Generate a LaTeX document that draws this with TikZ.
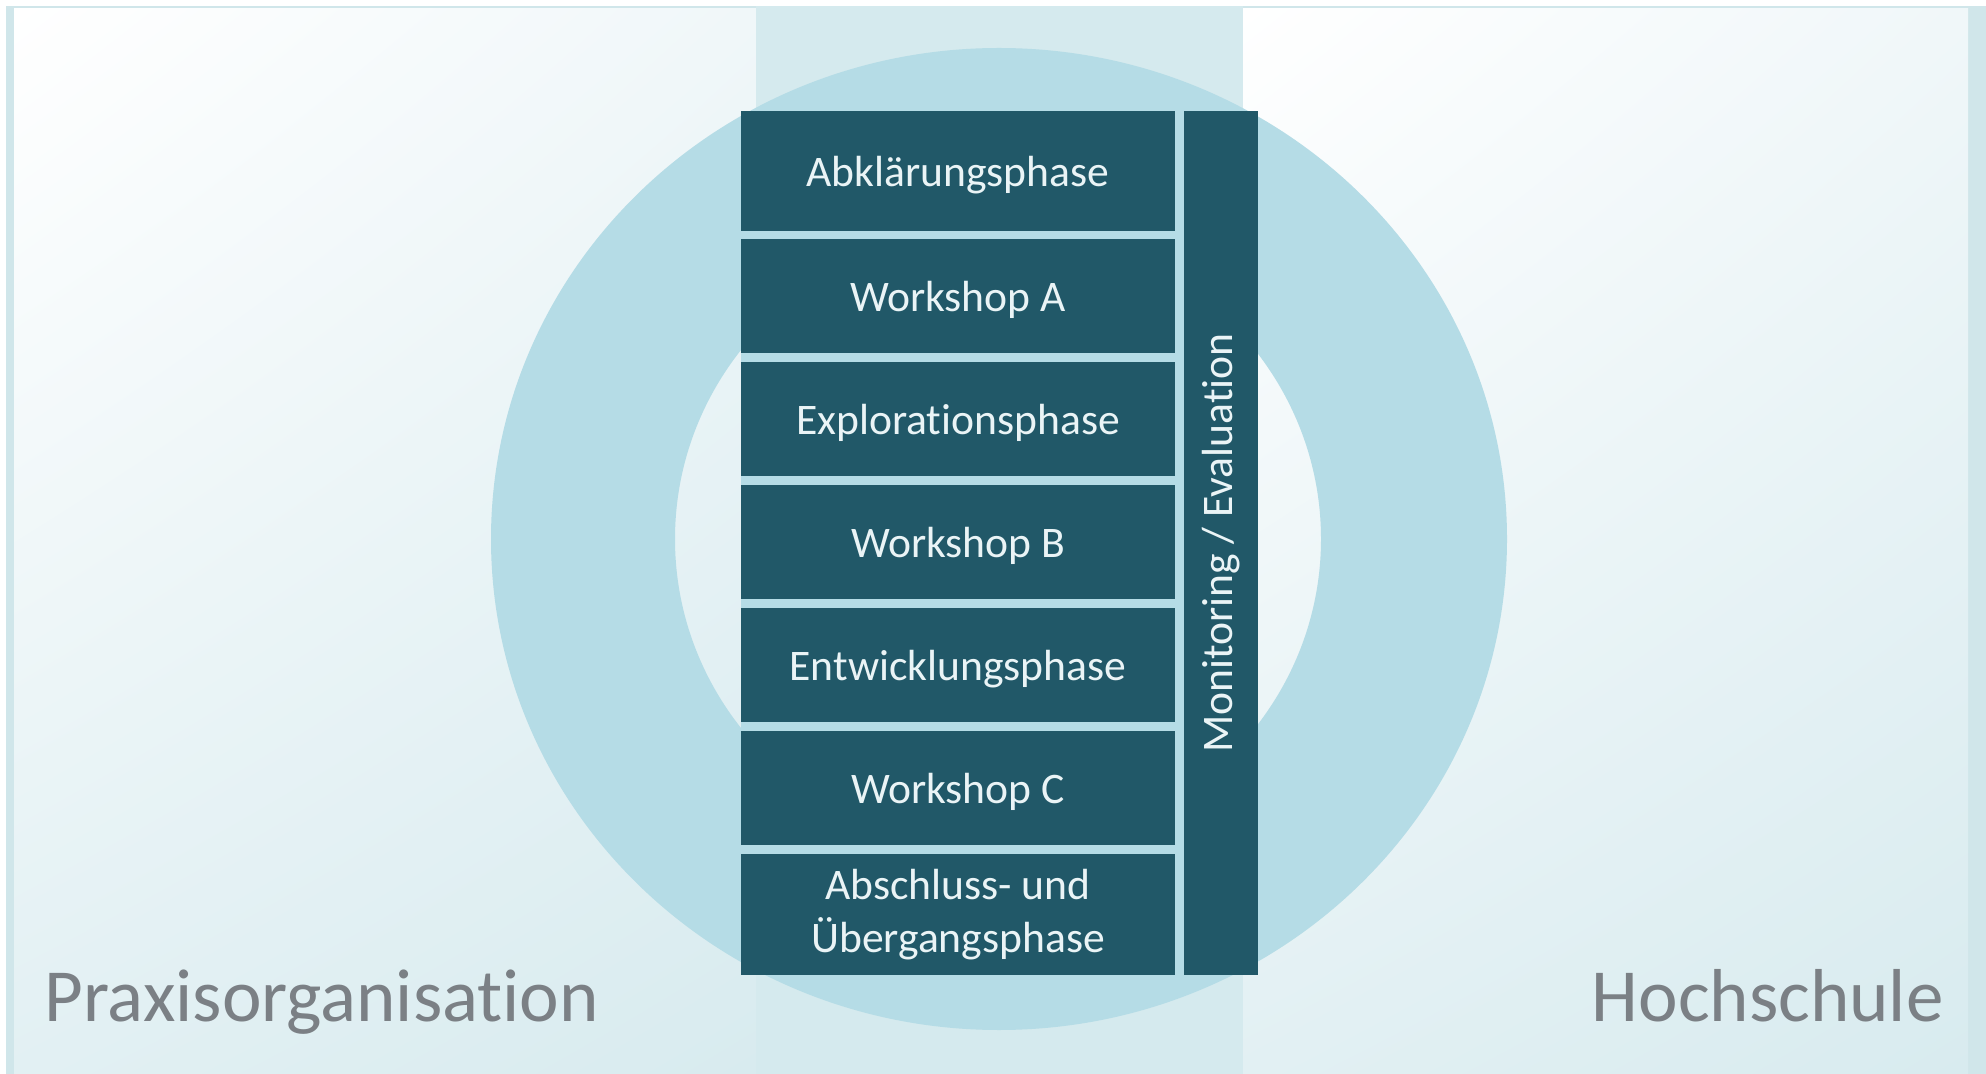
\documentclass[tikz,border=0pt]{standalone}
\usepackage{fontspec}
\setmainfont[Ligatures=NoCommon]{Carlito}
\usetikzlibrary{shadings}
\definecolor{boxteal}{HTML}{215868}
\definecolor{boxtext}{HTML}{EAF4F6}
\definecolor{ringblue}{HTML}{B5DCE6}
\definecolor{bandteal}{HTML}{D5EAEE}
\definecolor{framet}{HTML}{D0E6EA}
\definecolor{labelgray}{HTML}{7B8085}
\definecolor{panelA}{HTML}{F0F7F9}
\definecolor{panelB}{HTML}{E2F0F3}
\definecolor{panelC}{HTML}{D8EBEF}
\begin{document}
\begin{tikzpicture}[x=0.5pt,y=-0.5pt,
  phase/.style={fill=boxteal, text=boxtext, minimum width=217pt, inner sep=0pt,
    font=\fontsize{21.8}{26.5}\selectfont, align=center},
  oneline/.style={text height=17.5pt, text depth=2pt},
  sidelabel/.style={text=labelgray, font=\fontsize{37.5}{45}\selectfont, inner sep=0pt}]
\useasboundingbox (0,0) rectangle (1986,1074);

% page background and frame
\fill[white] (0,0) rectangle (1986,1074);
\fill[framet] (6,6) rectangle (1986,1074);

% two side panels with soft diagonal gradients
\shade[upper left=white, upper right=panelA, lower left=panelB, lower right=panelC]
  (14,9) rectangle (756,1074);
\shade[upper left=white, upper right=panelA, lower left=panelB, lower right=panelC]
  (1243,9) rectangle (1968,1074);

% central band
\fill[bandteal] (756,6) rectangle (1243,1074);

% ring
\fill[ringblue, even odd rule]
  (999,539) ellipse [x radius=254pt, y radius=245.5pt]
  (998,539) ellipse [x radius=161.5pt, y radius=156pt];

% backing behind the phase stack (shows through the gaps)
\fill[ringblue] (741,111) rectangle (1258,975);

% phases
\node[phase, oneline, minimum height=60pt] (p1) at (958,171) {Abklärungsphase};
\node[phase, oneline, minimum height=57pt] (p2) at (958,296) {Workshop A};
\node[phase, oneline, minimum height=57pt] (p3) at (958,419) {Explorationsphase};
\node[phase, oneline, minimum height=57pt] (p4) at (958,542) {Workshop B};
\node[phase, oneline, minimum height=57pt] (p5) at (958,665) {Entwicklungsphase};
\node[phase, oneline, minimum height=57pt] (p6) at (958,788) {Workshop C};
\node[phase, minimum height=60.5pt] (p7) at (958,914.5) {Abschluss- und\\Übergangsphase};

% monitoring column
\node[phase, rotate=90, minimum width=432pt, minimum height=37pt] (mon) at (1221,543)
  {Monitoring / Evaluation};

% side labels
\node[sidelabel, anchor=base west] (prax) at (44,1021) {Praxisorganisation};
\node[sidelabel, anchor=base east] (hoch) at (1944,1021) {Hochschule};
\end{tikzpicture}
\end{document}
